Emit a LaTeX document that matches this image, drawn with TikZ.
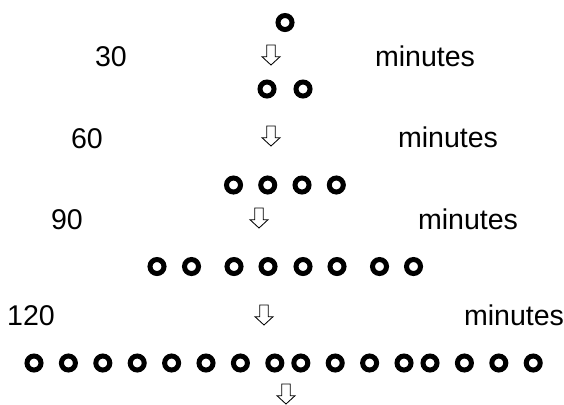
\documentclass[tikz,border=0pt]{standalone}
\usepackage{fontspec}
\setmainfont{Liberation Sans}
\def\ringwidth{0.125cm}
\def\ringsize{0.35cm}

\tikzset{
  cell/.style={circle, draw, line width=\ringwidth, minimum size=\ringsize, inner sep=0pt},
  lbl/.style={anchor=base, inner sep=0pt, font=\fontsize{20.3}{24}\selectfont},
  waitarrow/.pic={
    \draw[line width=0.6pt, fill=white] (-4.2,0) -- (4.2,0) -- (4.2,11.7) -- (9,11.7)
      -- (0,20) -- (-9,11.7) -- (-4.2,11.7) -- cycle;
  }
}

\begin{document}
\begin{tikzpicture}[x=0.025cm, y=-0.025cm]
  \useasboundingbox (0,0) rectangle (564,404);

  % cells, one row per step
  \foreach \x [count=\i] in {285}
    \node[cell] (ra\i) at (\x,22.5) {};
  \foreach \x [count=\i] in {267,303}
    \node[cell] (rb\i) at (\x,89) {};
  \foreach \x [count=\i] in {233.5,267.7,302,336.3}
    \node[cell] (rc\i) at (\x,185) {};
  \foreach \x [count=\i] in {157,191.5,234,268,303,337,379.5,413.5}
    \node[cell] (rd\i) at (\x,266.5) {};
  \foreach \x [count=\i] in {34,68.4,102.8,137.2,171.6,206,240.4,274.8,300.8,335.2,369.6,404,430,464.4,498.8,533.2}
    \node[cell] (re\i) at (\x,363) {};

  % time labels
  \node[lbl] (t30)  at (111,66)   {30};
  \node[lbl] (m30)  at (425,66.5) {minutes};
  \node[lbl] (t60)  at (87,148)   {60};
  \node[lbl] (m60)  at (448,147.5) {minutes};
  \node[lbl] (t90)  at (67,229)   {90};
  \node[lbl] (m90)  at (468,229)  {minutes};
  \node[lbl] (t120) at (31,325)   {120};
  \node[lbl] (m120) at (514,325)  {minutes};

  % arrows
  \pic at (271,45)  {waitarrow};
  \pic at (271,126) {waitarrow};
  \pic at (259,208) {waitarrow};
  \pic at (264,305) {waitarrow};
  \pic at (286,384) {waitarrow};

\end{tikzpicture}
\end{document}
